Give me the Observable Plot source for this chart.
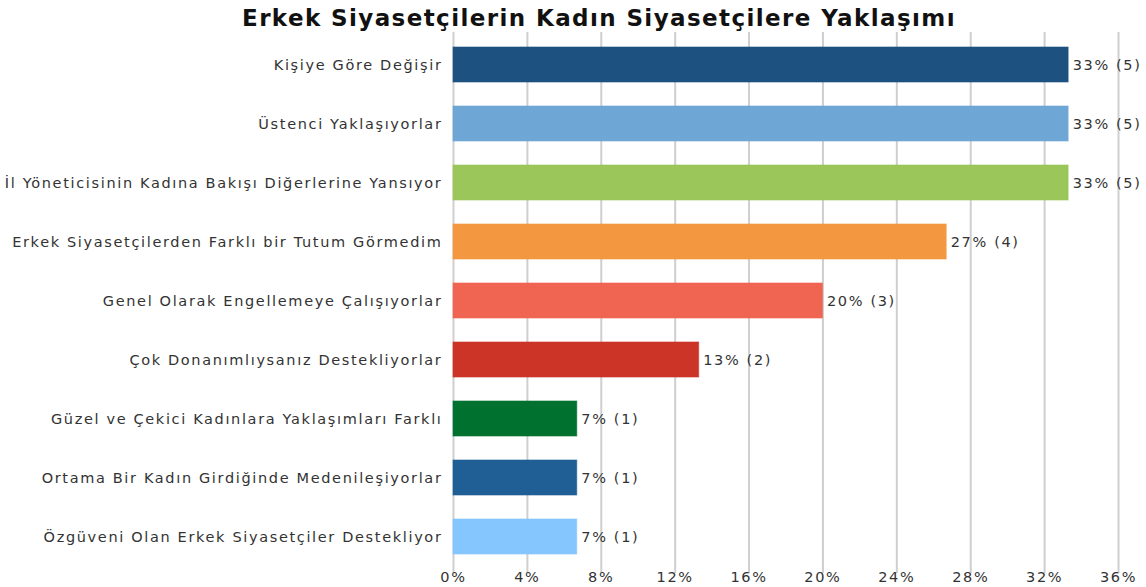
<!DOCTYPE html>
<html>
<head>
<meta charset="utf-8">
<script src="https://cdn.jsdelivr.net/npm/d3@7"></script>
<script src="https://cdn.jsdelivr.net/npm/@observablehq/plot@0.6"></script>
<style>
  html, body { margin: 0; padding: 0; background: #fff; }
  #title { height: 32px; line-height: 36px; text-align: center; font-family: "DejaVu Sans", sans-serif; font-weight: 700; font-size: 23px; letter-spacing: 1.4px; color: #111; padding-left: 52px; box-sizing: border-box; width: 1146px; overflow: hidden; white-space: nowrap; }
  #chart svg { display: block; }
  #chart svg text { letter-spacing: 1.65px; }
</style>
</head>
<body>
<div id="title">Erkek Siyasetçilerin Kadın Siyasetçilere Yaklaşımı</div>
<div id="chart"></div>
<script>
const categories = [
  "Kişiye Göre Değişir",
  "Üstenci Yaklaşıyorlar",
  "İl Yöneticisinin Kadına Bakışı Diğerlerine Yansıyor",
  "Erkek Siyasetçilerden Farklı bir Tutum Görmedim",
  "Genel Olarak Engellemeye Çalışıyorlar",
  "Çok Donanımlıysanız Destekliyorlar",
  "Güzel ve Çekici Kadınlara Yaklaşımları Farklı",
  "Ortama Bir Kadın Girdiğinde Medenileşiyorlar",
  "Özgüveni Olan Erkek Siyasetçiler Destekliyor"
];
const percents = [33.3, 33.3, 33.3, 26.7, 20.0, 13.3, 6.7, 6.7, 6.7];
const counts = [5, 5, 5, 4, 3, 2, 1, 1, 1];
const colors = ["#1d5180", "#6ea7d6", "#9bc75a", "#f39740", "#ef6551", "#cb3427", "#00712f", "#1f5f96", "#86c6fe"];
const xTicks = [0, 4, 8, 12, 16, 20, 24, 28, 32, 36];

const data = categories.map((c, i) => ({
  category: c,
  value: percents[i],
  count: counts[i],
  color: colors[i],
  label: `${Math.round(percents[i])}% (${counts[i]})`
}));

const chart = Plot.plot({
  width: 1146,
  height: 555,
  marginLeft: 453,
  marginRight: 28,
  marginTop: 0,
  marginBottom: 19,
  style: { fontFamily: "'DejaVu Sans', sans-serif", fontSize: "14.5px", color: "#333", background: "#fff" },
  x: { domain: [0, 36], ticks: xTicks, tickFormat: d => d + "%", label: null },
  y: { domain: categories, label: null, paddingInner: 0.41, paddingOuter: 0.22 },
  marks: [
    Plot.ruleX(xTicks, { stroke: "#cfcfcf", strokeWidth: 2 }),
    Plot.barX(data, { x: "value", y: "category", fill: "color", stroke: "color", strokeOpacity: 0.6 }),
    Plot.text(data, { x: "value", y: "category", text: "label", textAnchor: "start", dx: 4, fill: "#333", fontSize: 14.5 }),
    Plot.ruleY([0], { frameAnchor: "bottom", stroke: "#cfcfcf", strokeWidth: 2 }),
    Plot.axisX({ ticks: xTicks, tickFormat: d => d + "%", tickSize: 5, tickPadding: -2, stroke: "#cfcfcf", strokeWidth: 2, label: null, fill: "#333" }),
    Plot.axisY({ tickSize: 0, tickPadding: 11, label: null, fill: "#333" })
  ]
});
document.getElementById("chart").appendChild(chart);
</script>
</body>
</html>
